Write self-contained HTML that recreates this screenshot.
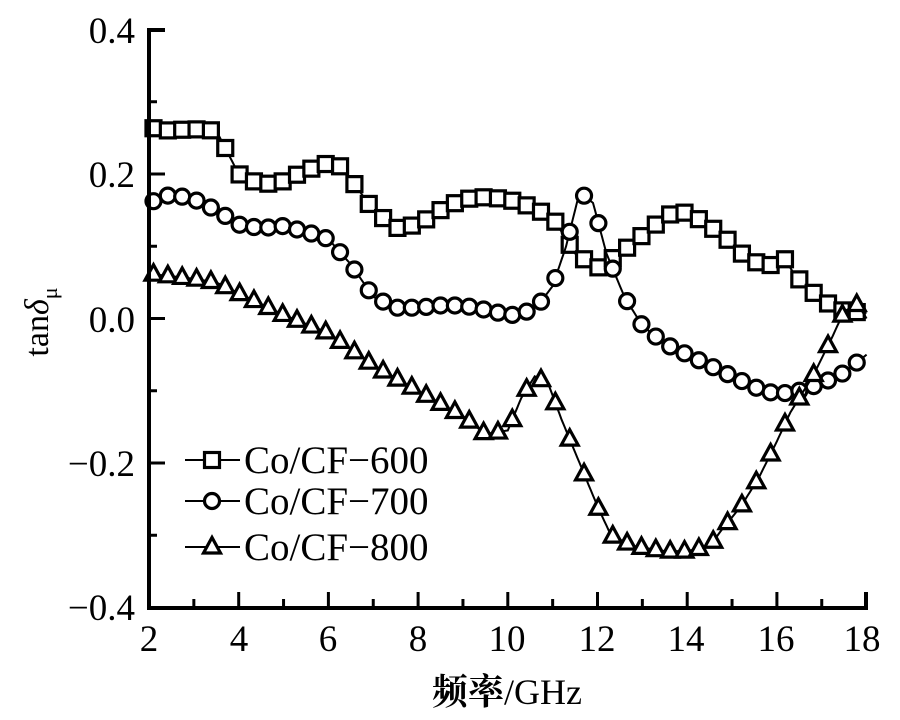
<!DOCTYPE html>
<html><head><meta charset="utf-8"><style>
html,body{margin:0;padding:0;background:#fff;}
svg{display:block;font-family:"Liberation Serif","Noto Serif CJK SC",serif;}
</style></head><body>
<svg id="s" width="900" height="720" viewBox="0 0 900 720" xmlns="http://www.w3.org/2000/svg">
<rect width="900" height="720" fill="#fff"/>
<g id="data"></g>
<g stroke="#000" stroke-width="4" fill="none">
<polyline points="165,30 149,30 149,608 866,608 866,592"/>
</g>
<g id="ticks" stroke="#000" stroke-width="3"></g>
<g font-size="37" fill="#000">
<text x="135" y="43" text-anchor="end">0.4</text>
<text x="135" y="187" text-anchor="end">0.2</text>
<text x="135" y="332" text-anchor="end">0.0</text>
<text x="135" y="476" text-anchor="end">−0.2</text>
<text x="135" y="620" text-anchor="end">−0.4</text>
<text x="149" y="651" text-anchor="middle">2</text>
<text x="239" y="651" text-anchor="middle">4</text>
<text x="328" y="651" text-anchor="middle">6</text>
<text x="418" y="651" text-anchor="middle">8</text>
<text x="507" y="651" text-anchor="middle">10</text>
<text x="597" y="651" text-anchor="middle">12</text>
<text x="686" y="651" text-anchor="middle">14</text>
<text x="776" y="651" text-anchor="middle">16</text>
<text x="862" y="651" text-anchor="middle">18</text>
<text x="244" y="473" font-size="39">Co/CF−600</text>
<text x="244" y="514" font-size="39">Co/CF−700</text>
<text x="244" y="560" font-size="39">Co/CF−800</text>
<text x="507" y="704" text-anchor="middle" font-size="36"><tspan font-weight="bold">频率</tspan>/GHz</text>
<text transform="translate(48,322) rotate(-90)" text-anchor="middle" font-size="34">tan<tspan font-style="italic">δ</tspan><tspan font-size="22" dy="9">μ</tspan></text>
</g>
<g id="legend"></g>
</svg>
<script>
var NS="http://www.w3.org/2000/svg";
function X(g){return 149+(g-2)*44.85;}
function Y(v){return 318.5-v*722.5;}
var t=document.getElementById("ticks");
function ln(p,x1,y1,x2,y2,w,c){var l=document.createElementNS(NS,"line");l.setAttribute("x1",x1);l.setAttribute("y1",y1);l.setAttribute("x2",x2);l.setAttribute("y2",y2);l.setAttribute("stroke",c||"#000");l.setAttribute("stroke-width",w||3);p.appendChild(l);}
for(var g=3;g<18;g++){ln(t,X(g),608,X(g),g%2?599:592);}
[0.2,0,-0.2].forEach(function(v){ln(t,149,Y(v),165,Y(v));});
[0.3,0.1,-0.1,-0.3].forEach(function(v){ln(t,149,Y(v),157,Y(v));});
var S=[
[[2,0.265],[2.3,0.26],[3,0.262],[3.5,0.26],[4,0.2],[4.5,0.185],[5,0.19],[5.5,0.205],[6,0.215],[6.3,0.21],[7,0.15],[7.5,0.125],[8,0.13],[8.5,0.15],[9,0.165],[9.5,0.168],[10,0.165],[10.5,0.155],[11,0.14],[11.5,0.09],[12,0.07],[12.5,0.09],[13,0.115],[13.5,0.14],[13.8,0.15],[14.2,0.14],[14.8,0.115],[15.3,0.085],[15.8,0.07],[16.1,0.09],[16.4,0.06],[17,0.025],[17.5,0.01],[18,0.008]],
[[2,0.16],[2.5,0.172],[3,0.165],[3.5,0.15],[4,0.13],[4.5,0.125],[5,0.128],[5.5,0.12],[6,0.11],[6.5,0.075],[7,0.03],[7.5,0.015],[8,0.015],[8.5,0.018],[9,0.018],[9.5,0.012],[10,0.005],[10.3,0.005],[10.7,0.02],[11,0.045],[11.3,0.1],[11.6,0.175],[11.9,0.16],[12.2,0.09],[12.6,0.03],[13,-0.01],[13.5,-0.035],[14,-0.05],[14.5,-0.065],[15,-0.08],[15.5,-0.095],[16,-0.105],[16.5,-0.1],[17,-0.09],[17.5,-0.075],[18,-0.05]],
[[2,0.062],[3,0.055],[3.5,0.05],[4,0.035],[5,0.005],[6,-0.02],[7,-0.065],[8,-0.1],[9,-0.135],[9.5,-0.16],[10,-0.155],[10.3,-0.11],[10.6,-0.08],[10.9,-0.09],[11.2,-0.14],[11.6,-0.2],[12,-0.26],[12.3,-0.3],[12.8,-0.315],[13.5,-0.322],[14,-0.322],[14.5,-0.315],[14.8,-0.29],[15.2,-0.26],[15.6,-0.22],[16,-0.17],[16.3,-0.13],[16.8,-0.08],[17.2,-0.03],[17.5,0.01],[17.8,0.02],[18,0.0]]];
function interp(d,g){for(var i=1;i<d.length;i++){if(g<=d[i][0]){var a=d[i-1],b=d[i];return a[1]+(b[1]-a[1])*(g-a[0])/(b[0]-a[0]);}}return d[d.length-1][1];}
function mk(p,k,x,y){var e;
 if(k==0){e=document.createElementNS(NS,"rect");e.setAttribute("x",x-7.5);e.setAttribute("y",y-7.5);e.setAttribute("width",15);e.setAttribute("height",15);}
 else if(k==1){e=document.createElementNS(NS,"circle");e.setAttribute("cx",x);e.setAttribute("cy",y);e.setAttribute("r",7.5);}
 else{e=document.createElementNS(NS,"polygon");e.setAttribute("points",(x-8.5)+","+(y+6)+" "+(x+8.5)+","+(y+6)+" "+x+","+(y-9.5));}
 e.setAttribute("fill","#fff");e.setAttribute("stroke","#000");e.setAttribute("stroke-width",3.2);p.appendChild(e);}
var D=document.getElementById("data");
S.forEach(function(d,k){
 var pts=[];for(var g=2;g<=18.001;g+=0.05)pts.push(X(g).toFixed(1)+","+Y(interp(d,g)).toFixed(1));
 var pl=document.createElementNS(NS,"polyline");pl.setAttribute("points",pts.join(" "));pl.setAttribute("fill","none");pl.setAttribute("stroke","#000");pl.setAttribute("stroke-width",2);D.appendChild(pl);
 for(var g=2.1;g<=17.95;g+=0.32)mk(D,k,X(g),Y(interp(d,g)));
});
var L=document.getElementById("legend");
[460,501,547].forEach(function(y,k){ln(L,185,y,240,y,2);mk(L,k,212,y);});
</script>
</body></html>
